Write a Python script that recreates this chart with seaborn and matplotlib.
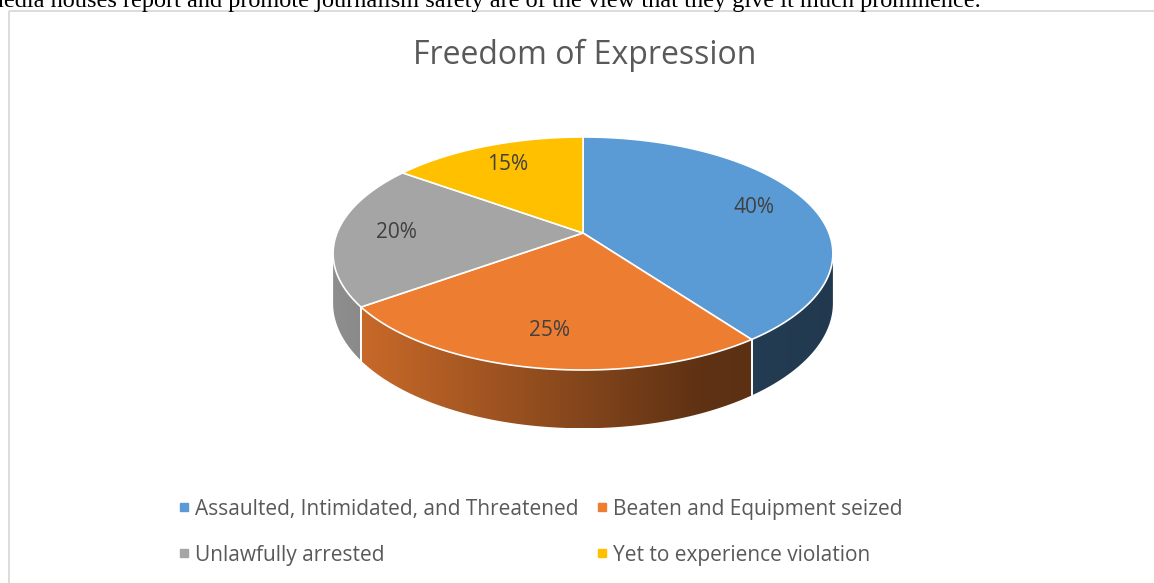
import numpy as np
import matplotlib
matplotlib.use('Agg')
import matplotlib.pyplot as plt
from matplotlib.patches import Polygon, Rectangle
from matplotlib.lines import Line2D
import seaborn as sns

# ---------------------------------------------------------------------------
# Data
# ---------------------------------------------------------------------------
categories = ['Assaulted, Intimidated, and Threatened',
              'Beaten and Equipment seized',
              'Unlawfully arrested',
              'Yet to experience violation']
shares = [40, 25, 20, 15]
colors = ['#5b9bd5', '#ed7d31', '#a5a5a5', '#ffc000']
title = 'Freedom of Expression'
page_text = ('media houses report and promote journalism safety are of the '
             'view that they give it much prominence.')

# ---------------------------------------------------------------------------
# Layout (pixels) and 3D look
# ---------------------------------------------------------------------------
W, H = 1154, 583
CX, AY = 583, 233          # apex of the pie on screen
RX, RY = 246, 112.9        # radii of the top face
K = 0.176                  # perspective strength
DEPTH = 48                 # thickness of the pie
LABEL_R = 0.76


def project(u, v, z=0.0):
    """Map a point of the unit disc (v towards the back) to screen pixels."""
    s = 1.0 / (1.0 + K * v)
    return CX + RX * u * s, AY - RY * v * s + z * DEPTH * s


def shade(px):
    """Darkening of the side wall as it goes to the right."""
    return np.interp(px, [333, 380, 700, 833], [0.86, 0.82, 0.40, 0.37])


sns.set_theme(style='white')
plt.rcParams['font.family'] = ['Open Sans', 'DejaVu Sans']
palette = sns.color_palette(colors)

fig = plt.figure(figsize=(W / 100, H / 100), dpi=100)
ax = fig.add_axes([0, 0, 1, 1])

# slice angles, clockwise from 12 o'clock
fracs = np.array(shares, dtype=float) / np.sum(shares)
ends = 90 - 360 * np.cumsum(fracs)
starts = np.concatenate([[90], ends[:-1]])

# visible part of the wall lies between the two silhouette angles
sil = np.degrees(np.arcsin(K))
vis_lo, vis_hi = -180 + sil, -sil

for a0, a1, col in zip(starts, ends, palette):
    lo, hi = min(a0, a1), max(a0, a1)
    for off in (-360, 0, 360):
        s0, s1 = max(lo + off, vis_lo), min(hi + off, vis_hi)
        if s1 <= s0:
            continue
        t = np.radians(np.linspace(s0, s1, 80))
        xt, yt = project(np.cos(t), np.sin(t))
        xb, yb = project(np.cos(t), np.sin(t), 1.0)
        verts = np.column_stack([np.concatenate([xt, xb[::-1]]),
                                 np.concatenate([yt, yb[::-1]])])
        wall = Polygon(verts, closed=True, facecolor='none',
                       edgecolor='none', zorder=1)
        ax.add_patch(wall)
        x0, x1 = verts[:, 0].min(), verts[:, 0].max()
        y0, y1 = verts[:, 1].min(), verts[:, 1].max()
        cols = np.linspace(x0, x1, 200)
        img = np.clip(np.array(col)[None, None, :] *
                      shade(cols)[None, :, None], 0, 1)
        im = ax.imshow(img, extent=(x0, x1, y1, y0), aspect='auto',
                       interpolation='bilinear', zorder=1)
        im.set_clip_path(wall)
        # white seams at the slice borders
        for a in (s0, s1):
            if abs(a - vis_lo) > 1e-6 and abs(a - vis_hi) > 1e-6:
                r = np.radians(a)
                xa, ya = project(np.cos(r), np.sin(r))
                xz, yz = project(np.cos(r), np.sin(r), 1.0)
                ax.plot([xa, xz], [ya, yz], color='white', lw=1.2, zorder=2)

# top faces
for a0, a1, col, pct in zip(starts, ends, palette, shares):
    t = np.radians(np.linspace(a0, a1, 120))
    xs, ys = project(np.cos(t), np.sin(t))
    verts = np.column_stack([np.concatenate([[CX], xs]),
                             np.concatenate([[AY], ys])])
    ax.add_patch(Polygon(verts, closed=True, facecolor=col,
                         edgecolor='white', lw=1.2, zorder=3))
    mid = np.radians((a0 + a1) / 2)
    lx, ly = project(LABEL_R * np.cos(mid), LABEL_R * np.sin(mid))
    ax.text(lx, ly, f'{pct}%', ha='center', va='center',
            fontsize=15, color='#404040', zorder=4)

# chart frame, title and the clipped page text above it
ax.add_patch(Rectangle((8.5, 10.5), 1300, 700, facecolor='none',
                       edgecolor='#d9d9d9', lw=1.3, zorder=0))
ax.text(CX + 2, 55, title, ha='center', va='center', fontsize=23,
        color='#595959')
ax.text(-15, 7, page_text, ha='left', va='baseline', fontsize=17.5,
        color='black', family=['Liberation Serif', 'DejaVu Serif'])

# legend: two rows, two columns
handles = [Line2D([], [], marker='s', linestyle='none', markersize=6,
                  markerfacecolor=c, markeredgecolor=c) for c in palette]
order = [0, 2, 1, 3]
ax.legend([handles[i] for i in order], [categories[i] for i in order],
          ncol=2, loc='center', bbox_to_anchor=(541 / W, 1 - 532 / H),
          bbox_transform=fig.transFigure, frameon=False, fontsize=15,
          labelcolor='#595959', handlelength=0.45, handletextpad=0.3,
          columnspacing=0.9, labelspacing=1.2)

ax.set_xlim(0, W)
ax.set_ylim(H, 0)
ax.axis('off')

fig.savefig('out.png', dpi=100, facecolor='white')
